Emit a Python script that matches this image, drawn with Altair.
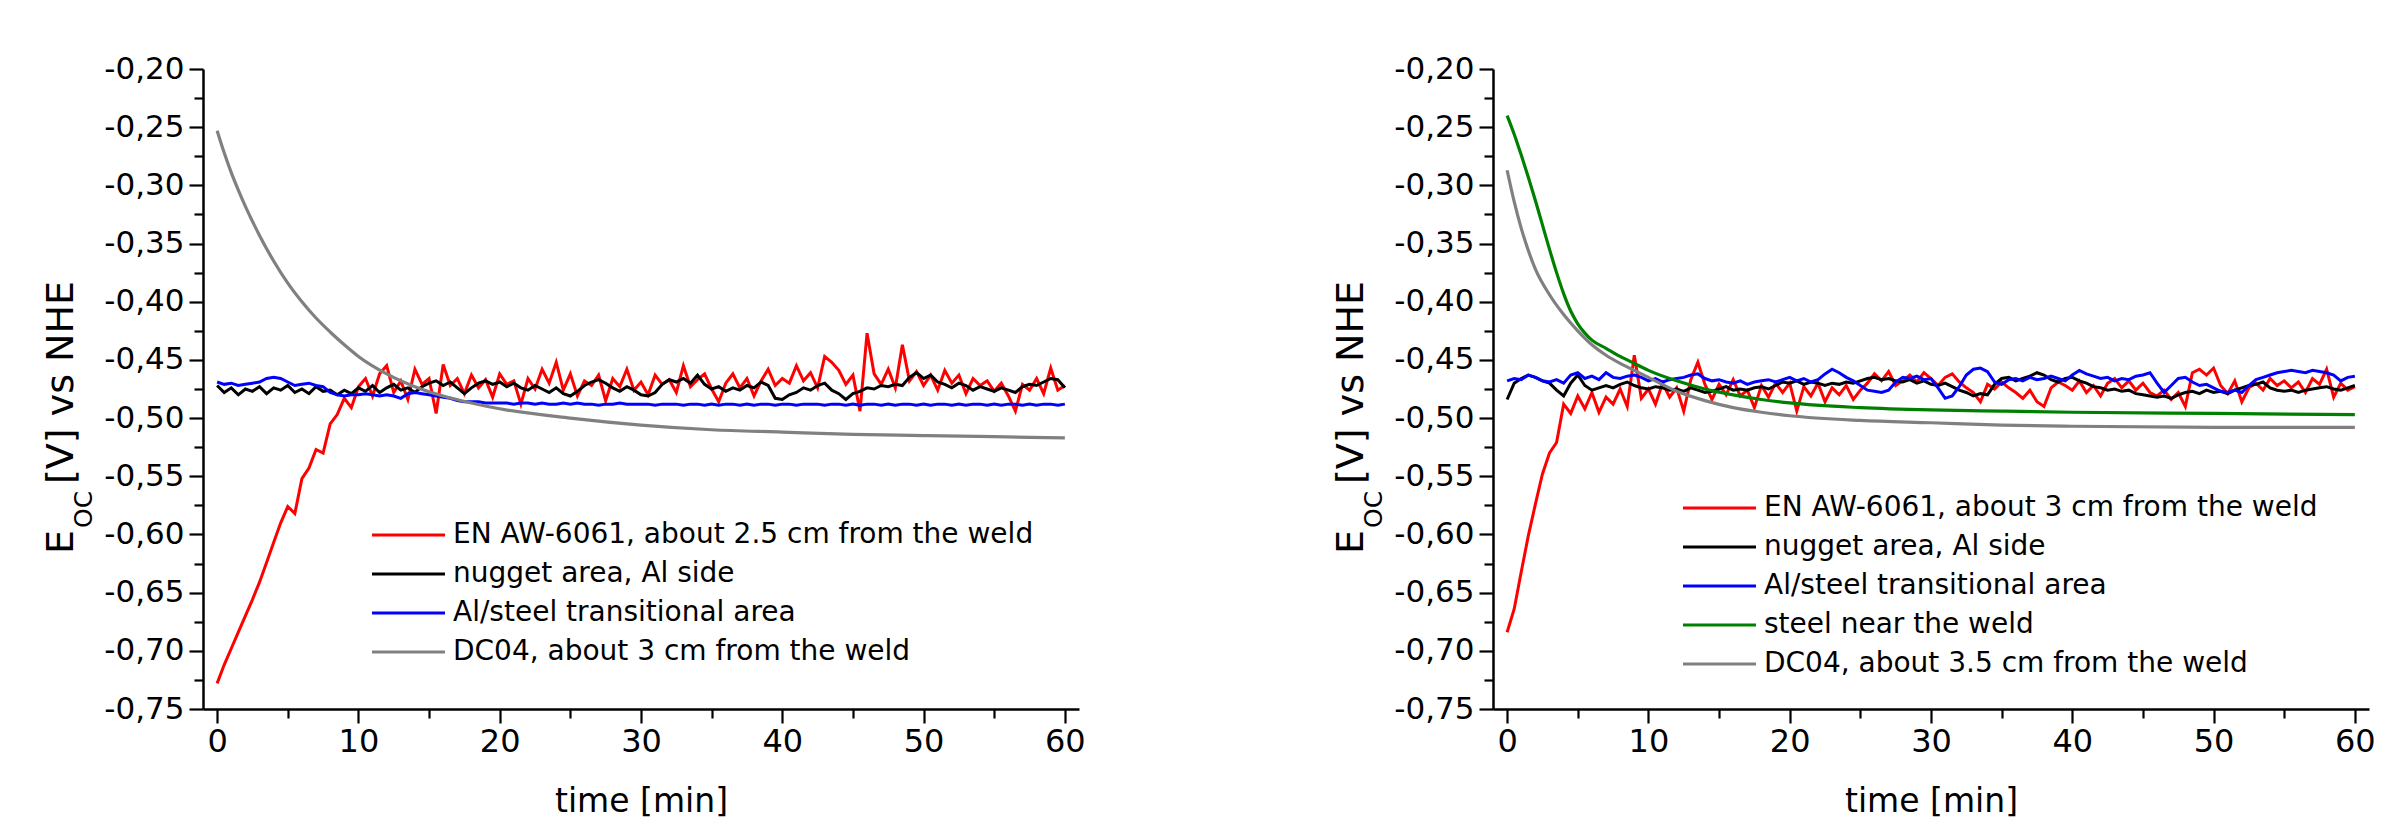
import altair as alt
import pandas as pd

# ---------------- data ----------------
TIME = [i * 0.5 for i in range(121)]  # sampling grid 0..60 min, every 0.5 min

# Left panel
L_RED = [
    -0.728, -0.712, -0.698, -0.684, -0.670, -0.656, -0.641, -0.624, -0.607, -0.590,
    -0.576, -0.582, -0.552, -0.543, -0.527, -0.530, -0.505, -0.497, -0.483, -0.491,
    -0.473, -0.466, -0.481, -0.462, -0.455, -0.478, -0.468, -0.484, -0.458, -0.471,
    -0.466, -0.496, -0.454, -0.472, -0.466, -0.479, -0.463, -0.474, -0.467, -0.482,
    -0.462, -0.471, -0.468, -0.488, -0.466, -0.475, -0.458, -0.470, -0.452, -0.476,
    -0.462, -0.481, -0.468, -0.472, -0.463, -0.485, -0.466, -0.473, -0.458, -0.476,
    -0.469, -0.480, -0.463, -0.471, -0.467, -0.478, -0.455, -0.473, -0.467, -0.462,
    -0.475, -0.486, -0.470, -0.462, -0.474, -0.466, -0.481, -0.468, -0.458, -0.472,
    -0.466, -0.470, -0.455, -0.468, -0.461, -0.474, -0.447, -0.452, -0.459, -0.471,
    -0.463, -0.494, -0.427, -0.462, -0.471, -0.458, -0.474, -0.437, -0.468, -0.460,
    -0.472, -0.463, -0.476, -0.459, -0.470, -0.463, -0.479, -0.466, -0.472, -0.468,
    -0.477, -0.470, -0.481, -0.494, -0.471, -0.476, -0.466, -0.479, -0.457, -0.476,
    -0.472]
L_BLACK = [
    -0.472, -0.478, -0.474, -0.480, -0.475, -0.477, -0.473, -0.479, -0.474, -0.476,
    -0.472, -0.478, -0.475, -0.479, -0.473, -0.477, -0.476, -0.480, -0.476, -0.479,
    -0.474, -0.477, -0.472, -0.478, -0.474, -0.471, -0.476, -0.474, -0.478, -0.473,
    -0.470, -0.468, -0.472, -0.469, -0.474, -0.479, -0.474, -0.470, -0.468, -0.471,
    -0.469, -0.473, -0.470, -0.474, -0.476, -0.472, -0.475, -0.478, -0.474, -0.479,
    -0.481, -0.477, -0.472, -0.469, -0.467, -0.470, -0.474, -0.477, -0.473, -0.476,
    -0.480, -0.481, -0.478, -0.471, -0.467, -0.469, -0.466, -0.470, -0.463, -0.471,
    -0.475, -0.473, -0.477, -0.474, -0.476, -0.472, -0.474, -0.469, -0.472, -0.483,
    -0.484, -0.480, -0.478, -0.474, -0.476, -0.472, -0.470, -0.476, -0.479, -0.484,
    -0.479, -0.477, -0.474, -0.475, -0.472, -0.473, -0.471, -0.472, -0.465, -0.461,
    -0.466, -0.463, -0.469, -0.471, -0.474, -0.470, -0.472, -0.476, -0.473, -0.475,
    -0.477, -0.474, -0.476, -0.478, -0.473, -0.471, -0.472, -0.469, -0.466, -0.467,
    -0.474]
L_BLUE = [
    -0.469, -0.471, -0.470, -0.472, -0.471, -0.470, -0.469, -0.466, -0.465, -0.466,
    -0.469, -0.472, -0.471, -0.470, -0.472, -0.473, -0.478, -0.480, -0.481, -0.480,
    -0.480, -0.479, -0.480, -0.481, -0.480, -0.481, -0.483, -0.479, -0.478, -0.479,
    -0.480, -0.481, -0.482, -0.483, -0.485, -0.486, -0.486, -0.486, -0.487, -0.487,
    -0.487, -0.487, -0.488, -0.487, -0.487, -0.488, -0.487, -0.488, -0.488, -0.487,
    -0.488, -0.487, -0.488, -0.488, -0.489, -0.488, -0.488, -0.487, -0.488, -0.488,
    -0.488, -0.488, -0.489, -0.488, -0.488, -0.488, -0.489, -0.488, -0.488, -0.489,
    -0.488, -0.489, -0.488, -0.488, -0.489, -0.488, -0.489, -0.488, -0.488, -0.489,
    -0.488, -0.488, -0.489, -0.488, -0.488, -0.488, -0.489, -0.488, -0.488, -0.489,
    -0.488, -0.489, -0.488, -0.488, -0.489, -0.488, -0.489, -0.488, -0.488, -0.489,
    -0.488, -0.489, -0.488, -0.488, -0.489, -0.488, -0.489, -0.488, -0.488, -0.489,
    -0.488, -0.489, -0.488, -0.488, -0.489, -0.488, -0.489, -0.488, -0.488, -0.489,
    -0.488]
L_GRAY_T = [0, 0.5, 1, 1.5, 2, 3, 4, 5, 6, 7, 8, 9, 10, 12, 14, 16, 18, 20,
            25, 30, 35, 40, 45, 50, 55, 60]
L_GRAY_V = [-0.253, -0.272, -0.289, -0.304, -0.318, -0.343, -0.365, -0.384, -0.400,
            -0.414, -0.426, -0.437, -0.447, -0.462, -0.473, -0.481, -0.487, -0.492,
            -0.500, -0.506, -0.510, -0.512, -0.514, -0.515, -0.516, -0.517]

# Right panel
R_RED = [
    -0.684, -0.664, -0.632, -0.601, -0.574, -0.548, -0.530, -0.521, -0.488, -0.496,
    -0.481, -0.492, -0.478, -0.495, -0.482, -0.488, -0.475, -0.490, -0.446, -0.483,
    -0.475, -0.488, -0.470, -0.482, -0.474, -0.494, -0.467, -0.452, -0.471, -0.484,
    -0.471, -0.480, -0.467, -0.481, -0.476, -0.491, -0.472, -0.482, -0.470, -0.478,
    -0.470, -0.494, -0.473, -0.481, -0.470, -0.486, -0.474, -0.480, -0.472, -0.484,
    -0.476, -0.470, -0.462, -0.468, -0.460, -0.472, -0.468, -0.463, -0.469, -0.461,
    -0.466, -0.472, -0.465, -0.462, -0.469, -0.474, -0.478, -0.486, -0.471, -0.475,
    -0.469, -0.474, -0.478, -0.483, -0.476, -0.486, -0.490, -0.474, -0.469, -0.472,
    -0.476, -0.468, -0.478, -0.472, -0.481, -0.470, -0.466, -0.474, -0.468, -0.476,
    -0.470, -0.478, -0.481, -0.476, -0.484, -0.478, -0.490, -0.461, -0.458, -0.463,
    -0.457, -0.472, -0.479, -0.468, -0.486, -0.474, -0.470, -0.476, -0.466, -0.472,
    -0.468, -0.474, -0.469, -0.478, -0.466, -0.471, -0.458, -0.482, -0.470, -0.476,
    -0.473]
R_BLACK = [
    -0.484, -0.470, -0.466, -0.463, -0.465, -0.468, -0.470, -0.476, -0.481, -0.470,
    -0.463, -0.472, -0.476, -0.474, -0.472, -0.474, -0.471, -0.469, -0.472, -0.474,
    -0.475, -0.473, -0.474, -0.476, -0.475, -0.477, -0.474, -0.476, -0.478, -0.477,
    -0.475, -0.473, -0.476, -0.475, -0.476, -0.474, -0.473, -0.475, -0.472, -0.469,
    -0.470, -0.468, -0.471, -0.469, -0.470, -0.472, -0.470, -0.471, -0.469, -0.470,
    -0.468, -0.466, -0.465, -0.467, -0.466, -0.468, -0.469, -0.467, -0.470, -0.468,
    -0.471, -0.472, -0.470, -0.473, -0.476, -0.478, -0.481, -0.479, -0.480, -0.471,
    -0.466, -0.465, -0.468, -0.466, -0.464, -0.461, -0.463, -0.467, -0.469, -0.466,
    -0.465, -0.468, -0.470, -0.473, -0.474, -0.476, -0.475, -0.477, -0.476, -0.479,
    -0.480, -0.481, -0.482, -0.481, -0.483, -0.480, -0.478, -0.477, -0.479, -0.476,
    -0.478, -0.477, -0.479, -0.476, -0.474, -0.472, -0.471, -0.469, -0.474, -0.476,
    -0.477, -0.476, -0.478, -0.476, -0.475, -0.474, -0.473, -0.475, -0.476, -0.474,
    -0.472]
R_BLUE = [
    -0.468, -0.466, -0.467, -0.463, -0.465, -0.468, -0.469, -0.467, -0.470, -0.463,
    -0.461, -0.466, -0.464, -0.467, -0.461, -0.465, -0.466, -0.464, -0.463, -0.465,
    -0.468, -0.466, -0.469, -0.467, -0.466, -0.465, -0.463, -0.462, -0.466, -0.468,
    -0.467, -0.469, -0.470, -0.468, -0.471, -0.469, -0.468, -0.467, -0.469, -0.467,
    -0.465, -0.468, -0.466, -0.469, -0.467, -0.462, -0.458, -0.461, -0.465, -0.468,
    -0.472, -0.476, -0.477, -0.478, -0.476, -0.469, -0.465, -0.466, -0.464, -0.467,
    -0.466, -0.474, -0.483, -0.481, -0.473, -0.463, -0.458, -0.457, -0.460, -0.469,
    -0.471, -0.467, -0.466, -0.468, -0.465, -0.467, -0.466, -0.464, -0.466, -0.468,
    -0.463, -0.459, -0.462, -0.464, -0.466, -0.465, -0.468, -0.466, -0.467, -0.464,
    -0.463, -0.461, -0.470, -0.478, -0.472, -0.466, -0.465, -0.469, -0.472, -0.471,
    -0.474, -0.477, -0.478, -0.476, -0.478, -0.472, -0.467, -0.465, -0.463, -0.461,
    -0.460, -0.459, -0.460, -0.461, -0.459, -0.460, -0.461, -0.463, -0.468, -0.465,
    -0.464]
R_GREEN_T = [0, 0.5, 1, 1.5, 2, 2.5, 3, 3.5, 4, 4.5, 5, 5.5, 6, 7, 8, 9, 10, 12, 14,
             16, 18, 20, 25, 30, 35, 40, 50, 60]
R_GREEN_V = [-0.240, -0.256, -0.274, -0.293, -0.313, -0.334, -0.355, -0.375, -0.393,
             -0.408, -0.419, -0.427, -0.433, -0.440, -0.447, -0.453, -0.459, -0.468,
             -0.475, -0.480, -0.484, -0.487, -0.491, -0.493, -0.494, -0.495, -0.496,
             -0.497]
R_GRAY_T = [0, 0.5, 1, 1.5, 2, 3, 4, 5, 6, 7, 8, 9, 10, 12, 14, 16, 18, 20, 25, 30,
            35, 40, 50, 60]
R_GRAY_V = [-0.287, -0.314, -0.337, -0.356, -0.372, -0.394, -0.411, -0.425, -0.437,
            -0.446, -0.453, -0.459, -0.465, -0.477, -0.485, -0.491, -0.495, -0.498,
            -0.502, -0.504, -0.506, -0.507, -0.508, -0.508]

L_LABELS = ["EN AW-6061, about 2.5 cm from the weld", "nugget area, Al side",
            "Al/steel transitional area", "DC04, about 3 cm from the weld"]
R_LABELS = ["EN AW-6061, about 3 cm from the weld", "nugget area, Al side",
            "Al/steel transitional area", "steel near the weld",
            "DC04, about 3.5 cm from the weld"]

X_TICKS = list(range(0, 61, 5))
Y_TICKS = [round(-0.75 + 0.025 * i, 3) for i in range(23)]

# ---------------- styling ----------------
FONT = "DejaVu Sans"
W, H = 876, 640
X_DOMAIN = [-1, 61]
Y_DOMAIN = [-0.75, -0.20]
RED, BLACK, BLUE, GREEN, GRAY = "#ff0000", "#000000", "#0000ff", "#008000", "#808080"

MAJ_Y = "abs(datum.value*20 - round(datum.value*20)) < 0.01"
MAJ_X = "datum.value % 10 == 0"
Y_LABEL = ("replace(replace(format(datum.value, '.2f'), '.', ','), '\u2212', '-')")

x_axis = alt.Axis(
    values=X_TICKS, title="time [min]", grid=False,
    labelExpr=f"{MAJ_X} ? datum.label : ''",
    tickSize={"condition": {"test": MAJ_X, "value": 14}, "value": 9},
    labelFont=FONT, labelFontSize=32, labelColor="black", labelPadding=3,
    labelOverlap=False, labelFlush=False,
    titleFont=FONT, titleFontSize=33, titleFontWeight="normal", titleColor="black",
    titlePadding=28,
    domainColor="black", domainWidth=2.5, tickColor="black", tickWidth=2.2,
)
y_axis = alt.Axis(
    values=Y_TICKS, title=None, grid=False,
    labelExpr=f"{MAJ_Y} ? {Y_LABEL} : ''",
    tickSize={"condition": {"test": MAJ_Y, "value": 14}, "value": 9},
    labelFont=FONT, labelFontSize=31, labelColor="black", labelPadding=5,
    labelOverlap=False, labelFlush=False,
    domainColor="black", domainWidth=2.5, tickColor="black", tickWidth=2.2,
)
x_scale = alt.Scale(domain=X_DOMAIN, nice=False, zero=False)
y_scale = alt.Scale(domain=Y_DOMAIN, nice=False, zero=False)


def series_layer(t, v, color, smooth=False):
    df = pd.DataFrame({"t": t, "v": v})
    return alt.Chart(df).mark_line(
        color=color, strokeWidth=3.0 if not smooth else 3.2,
        interpolate="monotone" if smooth else "linear", clip=True,
    ).encode(
        x=alt.X("t:Q", scale=x_scale, axis=x_axis),
        y=alt.Y("v:Q", scale=y_scale, axis=y_axis),
    )


def legend_layers(labels, colors, x1, x2, xt, y0, dy):
    out = []
    for i, (lab, col) in enumerate(zip(labels, colors)):
        d = pd.DataFrame({"label": [lab]})
        yy = y0 + i * dy
        out.append(alt.Chart(d).mark_rule(color=col, strokeWidth=3.0).encode(
            x=alt.value(x1), x2=alt.value(x2), y=alt.value(yy)))
        out.append(alt.Chart(d).mark_text(
            align="left", baseline="middle", font=FONT, fontSize=28, color="black"
        ).encode(x=alt.value(xt), y=alt.value(yy), text="label:N"))
    return out


def ytitle_layers():
    parts = [("E", 38, -130, 485), ("OC", 25, -111, 459), ("[V] vs NHE", 38, -130, 415)]
    out = []
    for txt, fs, xx, yy in parts:
        d = pd.DataFrame({"label": [txt]})
        out.append(alt.Chart(d).mark_text(
            angle=270, align="left", baseline="alphabetic", font=FONT, fontSize=fs,
            color="black"
        ).encode(x=alt.value(xx), y=alt.value(yy), text="label:N"))
    return out


left = alt.layer(
    series_layer(TIME, L_RED, RED),
    series_layer(TIME, L_BLACK, BLACK),
    series_layer(TIME, L_BLUE, BLUE),
    series_layer(L_GRAY_T, L_GRAY_V, GRAY, smooth=True),
    *legend_layers(L_LABELS, [RED, BLACK, BLUE, GRAY], 169, 242, 250, 466, 39),
    *ytitle_layers(),
).properties(width=W, height=H)

right = alt.layer(
    series_layer(TIME, R_RED, RED),
    series_layer(TIME, R_BLACK, BLACK),
    series_layer(TIME, R_BLUE, BLUE),
    series_layer(R_GREEN_T, R_GREEN_V, GREEN, smooth=True),
    series_layer(R_GRAY_T, R_GRAY_V, GRAY, smooth=True),
    *legend_layers(R_LABELS, [RED, BLACK, BLUE, GREEN, GRAY], 190, 263, 271, 439, 39),
    *ytitle_layers(),
).properties(width=W, height=H)

chart = alt.hconcat(left, right, spacing=247).properties(
    padding={"left": 35, "top": 45, "right": 5, "bottom": 5},
    background="white",
).configure_view(stroke=None)

chart.save("out.html", embed_options={"renderer": "svg", "actions": False})
